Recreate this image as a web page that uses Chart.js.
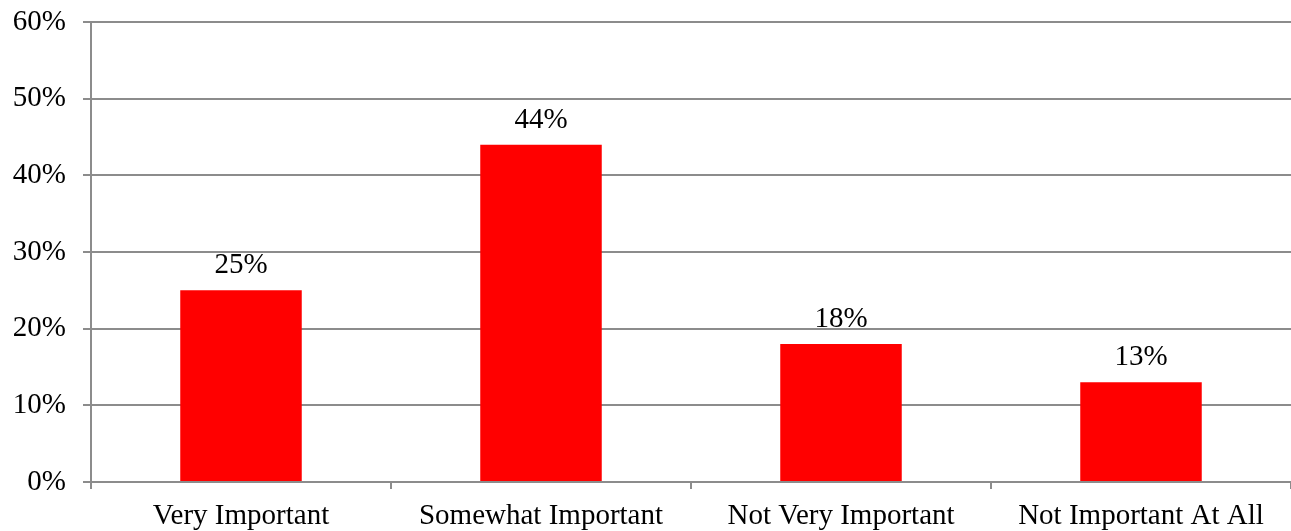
<!DOCTYPE html>
<html>
<head>
<meta charset="utf-8">
<script src="https://cdn.jsdelivr.net/npm/chart.js@4/dist/chart.umd.min.js"></script>
<style>
  html, body { margin: 0; padding: 0; background: #ffffff; }
  #wrap { width: 1291px; height: 531px; }
</style>
</head>
<body>
<div id="wrap"><canvas id="c" width="1291" height="531"></canvas></div>
<script>
// Survey responses: share of respondents per importance rating
const categories = ['Very Important', 'Somewhat Important', 'Not Very Important', 'Not Important At All'];
const shares = [25, 44, 18, 13];
const yTicks = [0, 10, 20, 30, 40, 50, 60];

const FONT = { family: '"Liberation Serif", "Times New Roman", serif', size: 29 };
const GRID = '#8c8c8c';

// Writes the percentage above each bar
const barValueLabels = {
  id: 'barValueLabels',
  afterDatasetsDraw(chart) {
    const ctx = chart.ctx;
    const meta = chart.getDatasetMeta(0);
    ctx.save();
    ctx.font = FONT.size + 'px ' + FONT.family;
    ctx.fillStyle = '#000000';
    ctx.textAlign = 'center';
    ctx.textBaseline = 'alphabetic';
    meta.data.forEach((bar, i) => {
      ctx.fillText(shares[i] + '%', bar.x, bar.y - 17);
    });
    ctx.restore();
  }
};

new Chart(document.getElementById('c'), {
  type: 'bar',
  data: {
    labels: categories,
    datasets: [{
      data: shares,
      backgroundColor: '#ff0000',
      borderWidth: 0,
      categoryPercentage: 1,
      barPercentage: 0.405
    }]
  },
  options: {
    responsive: false,
    animation: false,
    devicePixelRatio: 1,
    layout: { padding: { top: 22, right: 0, bottom: 0, left: 0 } },
    plugins: { legend: { display: false }, tooltip: { enabled: false } },
    scales: {
      x: {
        offset: true,
        grid: { display: true, drawOnChartArea: false, offset: true, color: GRID, lineWidth: 2, tickLength: 7 },
        border: { display: true, color: GRID, width: 2 },
        ticks: { color: '#000000', font: FONT, padding: 10, maxRotation: 0, autoSkip: false },
        afterFit(scale) { scale.height = 49; scale.paddingLeft = 0; scale.paddingRight = 0; }
      },
      y: {
        min: 0,
        max: 60,
        afterBuildTicks(scale) { scale.ticks = yTicks.map(v => ({ value: v })); },
        grid: { color: GRID, lineWidth: 2, tickLength: 8 },
        border: { display: true, color: GRID, width: 2 },
        ticks: { color: '#000000', font: FONT, padding: 17, callback: v => v + '%' },
        afterFit(scale) { scale.width = 91; scale.paddingTop = 0; scale.paddingBottom = 0; }
      }
    }
  },
  plugins: [barValueLabels]
});
</script>
</body>
</html>
